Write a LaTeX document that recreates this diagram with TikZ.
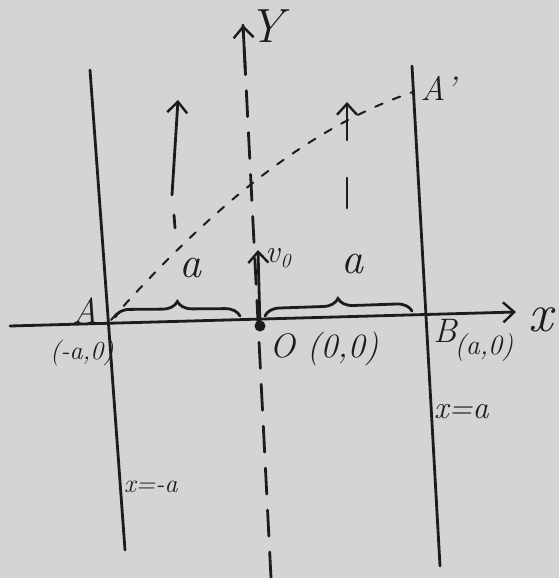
\documentclass[tikz,border=0pt]{standalone}
\usetikzlibrary{arrows.meta,decorations.pathreplacing,calc}
\definecolor{paper}{RGB}{212,212,210}
\definecolor{ink}{RGB}{28,28,30}
\begin{document}
\begin{tikzpicture}[x=1pt,y=-1pt,
  ink line/.style={draw=ink,line width=2.8pt,line cap=round},
  barb/.style={-{Straight Barb[length=11pt,width=20pt,line width=2.4pt]}},
  lbl/.style={text=ink,inner sep=0pt,font=\itshape\fontsize{30}{34}\selectfont}]
\fill[paper] (0,0) rectangle (559,578);
\useasboundingbox (0,0) rectangle (559,578);
% points
\coordinate (A) at (111,320);
\coordinate (O) at (260,326);
\coordinate (Ap) at (413,92);
\coordinate (xl) at (10,326);
\coordinate (xr) at (516,312);
\coordinate (yb) at (271,578);
\coordinate (yt) at (243,25);
\coordinate (Lt) at (90,70);
\coordinate (Lb) at (125,550);
\coordinate (Rt) at (412,66);
\coordinate (Rb) at (440,566);
% walls
\draw[ink line] (Lt) -- (Lb);
\draw[ink line] (Rt) -- (Rb);
% x axis
\draw[ink line,barb] (xl) -- (xr);
% y axis (dashed)
\draw[ink line,dash pattern=on 26pt off 16pt] (yb) -- (yt);
\draw[ink line,barb] ($(yt)!0.08!(yb)$) -- (yt);
% origin and v0
\fill[ink] (O) circle (5.5pt);
\coordinate (v0) at (258,250);
\draw[ink line,barb] (O) -- (v0);
% trajectory
\draw[ink line,line width=2pt,dash pattern=on 8pt off 11pt] (A) .. controls (200,220) and (300,130) .. (Ap);
% small arrows
\coordinate (s1a) at (172,195); \coordinate (s1b) at (178,100);
\coordinate (s1c) at (174,215); \coordinate (s1d) at (175,228);
\draw[ink line,barb] (s1a) -- (s1b);
\draw[ink line] (s1c) -- (s1d);
\coordinate (s2a) at (347,140); \coordinate (s2b) at (347,102);
\coordinate (s2c) at (347,178); \coordinate (s2d) at (347,208);
\draw[ink line,barb] (s2a) -- (s2b);
\draw[ink line] (s2c) -- (s2d);
% braces
\coordinate (b1a) at (115,318); \coordinate (b1b) at (240,317);
\coordinate (b2a) at (265,317); \coordinate (b2b) at (412,312);
\draw[ink line,decorate,decoration={brace,amplitude=15pt,raise=1pt}] (b1a) -- (b1b);
\draw[ink line,decorate,decoration={brace,amplitude=15pt,raise=1pt}] (b2a) -- (b2b);
% labels
\node[lbl,font=\itshape\fontsize{44}{48}\selectfont] (la1) at (190,268) {a};
\node[lbl,font=\itshape\fontsize{44}{48}\selectfont] (la2) at (352,264) {a};
\node[lbl,font=\itshape\fontsize{36}{40}\selectfont] (lA) at (86,311) {A};
\node[lbl,font=\itshape\fontsize{26}{30}\selectfont] (lAm) at (82,353) {(-a,0)};
\node[lbl,font=\itshape\fontsize{34}{38}\selectfont] (lO) at (324,349) {O (0,0)};
\node[lbl,font=\itshape\fontsize{34}{38}\selectfont] (lB) at (445,331) {B};
\node[lbl,font=\itshape\fontsize{28}{32}\selectfont] (lBc) at (484,348) {(a,0)};
\node[lbl,font=\itshape\fontsize{54}{58}\selectfont] (lx) at (541,320) {x};
\node[lbl,font=\itshape\fontsize{48}{52}\selectfont] (ly) at (266,26) {Y};
\node[lbl,font=\itshape\fontsize{34}{38}\selectfont] (lAp) at (438,88) {A'};
\node[lbl,font=\itshape\fontsize{32}{36}\selectfont] (lv0) at (278,258) {v\kern1pt\raisebox{-5pt}{\fontsize{20}{22}\selectfont 0}};
\node[lbl,font=\itshape\fontsize{26}{30}\selectfont,anchor=west] (lxl) at (124,487) {x=-a};
\node[lbl,font=\itshape\fontsize{32}{36}\selectfont,anchor=west] (lxr) at (434,412) {x=a};
\end{tikzpicture}
\end{document}
